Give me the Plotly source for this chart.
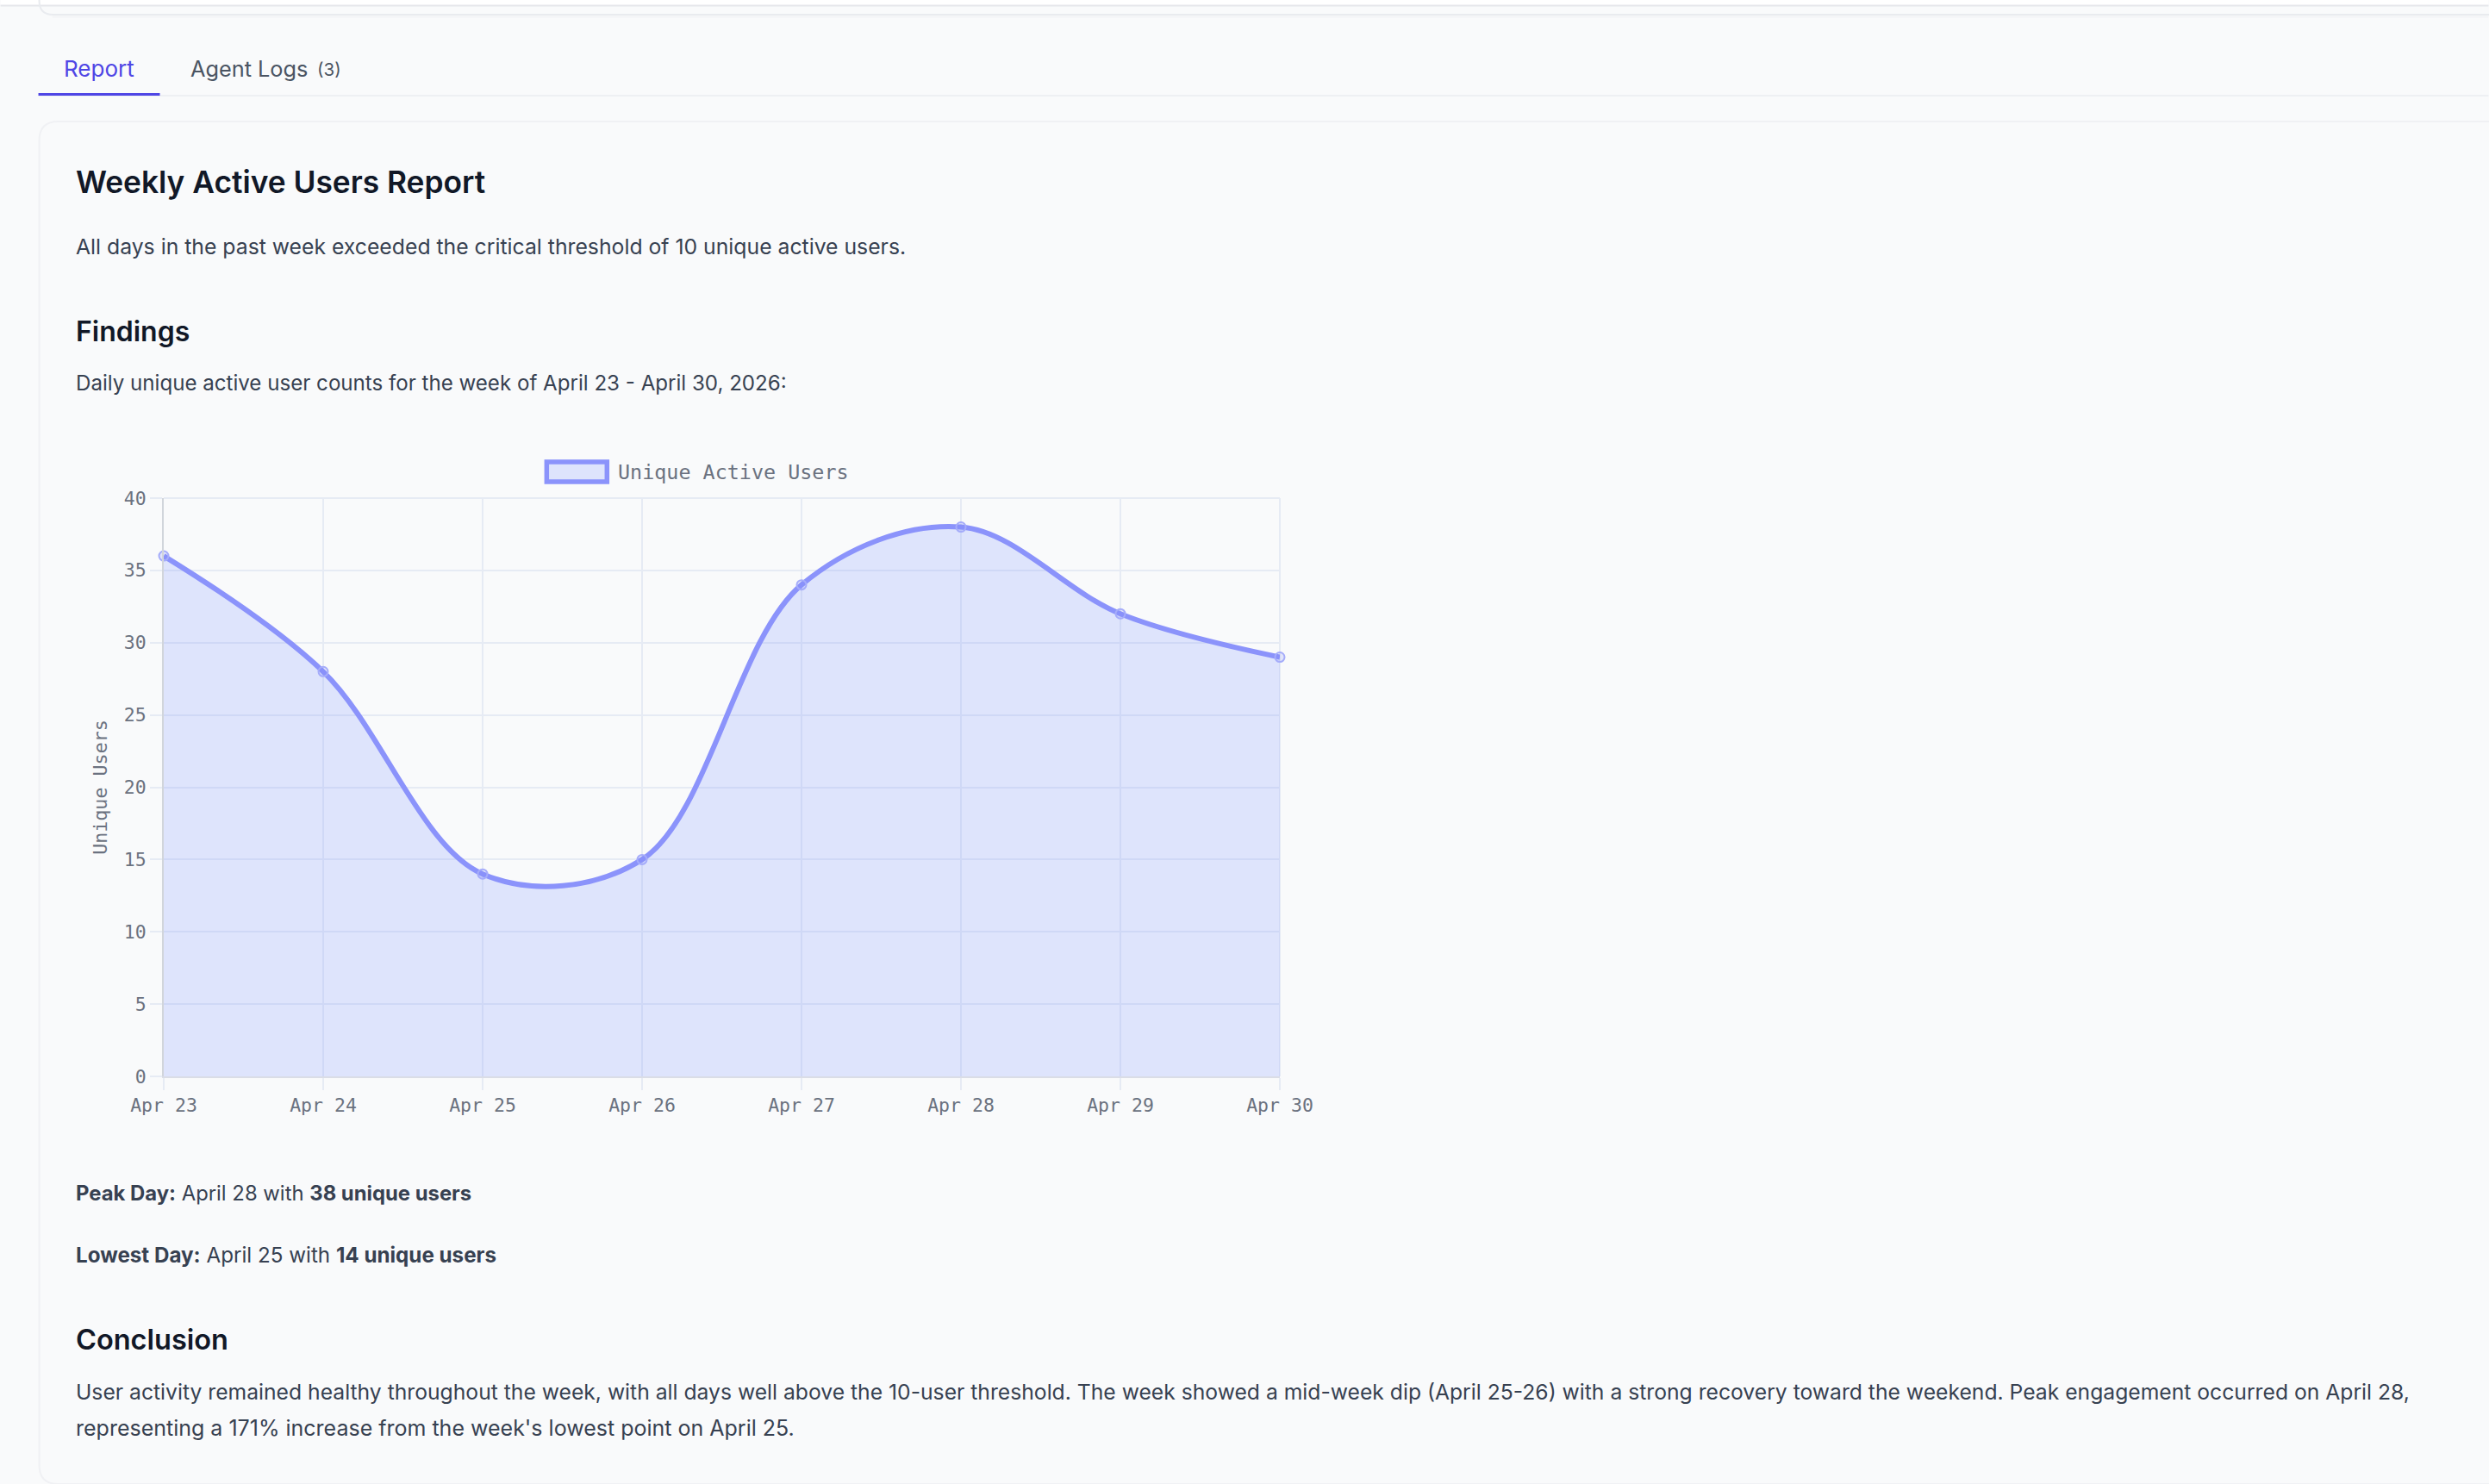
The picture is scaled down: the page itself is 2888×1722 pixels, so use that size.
import plotly.graph_objects as go

W, H = 2888, 1722
# plot area on the page, in pixels
L, R, T, B = 189.5, 1485, 578, 1249
UI_FONT = "Inter"
MONO = "DejaVu Sans Mono"
GRID = "#e6ebf4"
FILL = "rgba(125,145,255,0.21)"

# chart data
days = ["Apr 23", "Apr 24", "Apr 25", "Apr 26", "Apr 27", "Apr 28", "Apr 29", "Apr 30"]
users = [36, 28, 14, 15, 34, 38, 32, 29]
y_ticks = [0, 5, 10, 15, 20, 25, 30, 35, 40]
series_name = "Unique Active Users"

# page text: (x, y centre, text, size, colour, weight)
page_text = [
    (71, 79, "Report", 26, "#4f46e5", 400),
    (219, 79, "Agent Logs", 25.3, "#4b5563", 400),
    (366, 80, "(3)", 20.5, "#4b5563", 400),
    (85, 211, "Weekly Active Users Report", 35.3, "#111827", 600),
    (85, 286, "All days in the past week exceeded the critical threshold of 10 unique active users.", 24.75, "#374151", 400),
    (85, 384, "Findings", 32, "#111827", 600),
    (85, 444, "Daily unique active user counts for the week of April 23 - April 30, 2026:", 24.12, "#374151", 400),
    (85, 1384, "<b>Peak Day:</b> April 28 with <b>38 unique users</b>", 23.85, "#374151", 400),
    (85, 1456, "<b>Lowest Day:</b> April 25 with <b>14 unique users</b>", 24.2, "#374151", 400),
    (85, 1554, "Conclusion", 32.5, "#111827", 600),
    (85, 1615, "User activity remained healthy throughout the week, with all days well above the 10-user threshold. The week showed a mid-week dip (April 25-26) with a strong recovery toward the weekend. Peak engagement occurred on April 28,", 24.7, "#374151", 400),
    (85, 1657, "representing a 171% increase from the week's lowest point on April 25.", 25, "#374151", 400),
]


# paper coordinates follow the plot area, so page pixels have to be converted
def px(x):
    return (x - L) / (R - L)


def py(y):
    return (B - y) / (B - T)


def box(x0, y0, x1, y1, **kw):
    return dict(type="rect", xref="paper", yref="paper", x0=px(x0), x1=px(x1),
                y0=py(y0), y1=py(y1), layer="below", **kw)


def hline(x0, x1, y, color, width):
    return dict(type="line", xref="paper", yref="paper", x0=px(x0), x1=px(x1),
                y0=py(y), y1=py(y), layer="below", line=dict(color=color, width=width))


def card_path(x0, y0, y1, r, top=True, bottom=True):
    # open on the right, the cards run off the page
    x1 = W + 10
    p = f"M {px(x1)} {py(y0)} "
    if top:
        p += f"L {px(x0 + r)} {py(y0)} Q {px(x0)} {py(y0)} {px(x0)} {py(y0 + r)} "
    else:
        p += f"L {px(x0)} {py(y0)} "
    if bottom:
        p += f"L {px(x0)} {py(y1 - r)} Q {px(x0)} {py(y1)} {px(x0 + r)} {py(y1)} L {px(x1)} {py(y1)}"
    else:
        p += f"L {px(x0)} {py(y1)}"
    return p


fig = go.Figure()
fig.add_trace(go.Scatter(
    x=days,
    y=users,
    name=series_name,
    mode="lines+markers",
    line=dict(color="#8b93fb", width=6, shape="spline", smoothing=1.0),
    marker=dict(size=11, color="rgba(129,140,248,0.2)", line=dict(color="#a5acfa", width=2)),
    fill="tozeroy",
    fillcolor=FILL,
    cliponaxis=False,
    showlegend=False,
))

shapes = [
    box(0, 0, W, 6, fillcolor="#ffffff", line_width=0),
    hline(0, W, 6.5, "#e5e7eb", 2),
    hline(60, W, 19.5, "#f3f4f6", 2),
    dict(type="path", xref="paper", yref="paper", layer="below",
         path=card_path(45, -30, 17, 16, top=False), line=dict(color="#e9ebef", width=2)),
    hline(44, W, 111, "#eef0f3", 2),
    hline(44, 185, 109.5, "#4f46e5", 3),
    dict(type="path", xref="paper", yref="paper", layer="below",
         path=card_path(45, 141, 1722, 22), line=dict(color="#f0f1f4", width=2)),
    # plotly leaves out the grid lines on the far edges of the plot
    hline(L, R, T, GRID, 2),
    dict(type="line", xref="paper", yref="paper", x0=1, x1=1, y0=0, y1=1, layer="below",
         line=dict(color=GRID, width=2)),
    # legend swatch
    dict(type="rect", xref="paper", yref="paper", x0=px(634), x1=px(704), y0=py(536), y1=py(559),
         fillcolor=FILL, line=dict(color="#8b93fb", width=5.5)),
]

annotations = [
    dict(xref="paper", yref="paper", x=px(x), y=py(y), text=t, showarrow=False,
         xanchor="left", yanchor="middle", align="left",
         font=dict(family=UI_FONT, size=size, color=color, weight=weight))
    for x, y, t, size, color, weight in page_text
]
annotations.append(dict(xref="paper", yref="paper", x=px(715), y=py(548), text=series_name,
                        showarrow=False, xanchor="left", yanchor="middle",
                        font=dict(family=MONO, size=23.4, color="#6b7280")))

fig.update_layout(
    width=W,
    height=H,
    margin=dict(l=L, r=W - R, t=T, b=H - B, pad=0, autoexpand=False),
    paper_bgcolor="#f9fafb",
    plot_bgcolor="rgba(0,0,0,0)",
    shapes=shapes,
    annotations=annotations,
    xaxis=dict(
        type="category",
        range=[0, len(days) - 1],
        showgrid=True,
        gridcolor=GRID,
        gridwidth=2,
        ticks="outside",
        ticklen=14,
        tickwidth=2,
        tickcolor=GRID,
        showline=True,
        linecolor="#dadde6",
        linewidth=2,
        tickfont=dict(family=MONO, size=21.5, color="#6b7280"),
        tickangle=0,
        ticklabelstandoff=-1,
    ),
    yaxis=dict(
        range=[0, 40],
        tickvals=y_ticks,
        showgrid=True,
        gridcolor=GRID,
        gridwidth=2,
        zeroline=False,
        ticks="outside",
        ticklen=14,
        tickwidth=2,
        tickcolor=GRID,
        showline=True,
        linecolor="#d1d5db",
        linewidth=2,
        tickfont=dict(family=MONO, size=21.5, color="#6b7280"),
        title=dict(text="Unique Users", standoff=13, font=dict(family=MONO, size=21.7, color="#6b7280")),
    ),
)

fig.write_html("out.html", config=dict(displayModeBar=False),
               post_script="document.body.style.margin='0';document.documentElement.style.overflow='hidden';")
